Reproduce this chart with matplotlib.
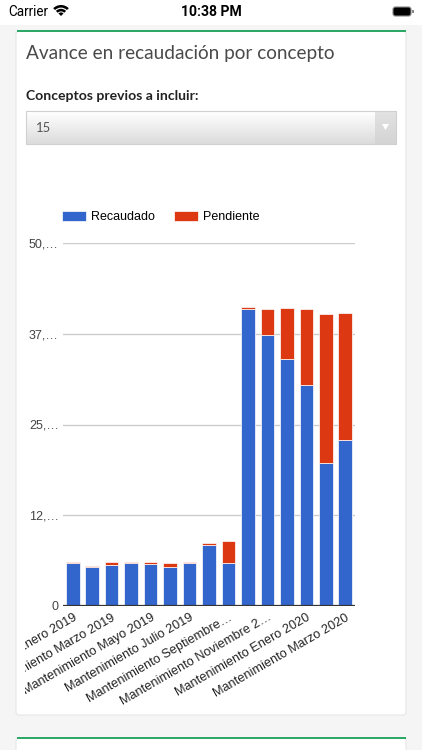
import numpy as np
import matplotlib
matplotlib.use("Agg")
import matplotlib.pyplot as plt
from matplotlib.patches import Rectangle, FancyBboxPatch, Polygon, Wedge
from matplotlib.transforms import Bbox, TransformedBbox

# ---------------- data ----------------
categories = [
    "Mantenimiento Enero 2019", "Mantenimiento Febrero 2019",
    "Mantenimiento Marzo 2019", "Mantenimiento Abril 2019",
    "Mantenimiento Mayo 2019", "Mantenimiento Junio 2019",
    "Mantenimiento Julio 2019", "Mantenimiento Agosto 2019",
    "Mantenimiento Septiembre 2019", "Mantenimiento Octubre 2019",
    "Mantenimiento Noviembre 2019", "Mantenimiento Diciembre 2019",
    "Mantenimiento Enero 2020", "Mantenimiento Febrero 2020",
    "Mantenimiento Marzo 2020",
]
recaudado = [5970, 5420, 5700, 5970, 5830, 5420, 5970, 8450, 5970,
             40970, 37390, 34080, 30410, 19660, 22830]
pendiente = [150, 150, 300, 150, 180, 550, 150, 170, 2950,
             150, 3490, 6940, 10470, 20530, 17500]
series_names = ["Recaudado", "Pendiente"]
xtick_labels = ["Mantenimiento Enero 2019", "Mantenimiento Marzo 2019",
                "Mantenimiento Mayo 2019", "Mantenimiento Julio 2019",
                "Mantenimiento Septiembre…", "Mantenimiento Noviembre 2…",
                "Mantenimiento Enero 2020", "Mantenimiento Marzo 2020"]
yticks = [0, 12500, 25000, 37500, 50000]
ytick_labels = ["0", "12,…", "25,…", "37,…", "50,…"]
title = "Avance en recaudación por concepto"
select_label = "Conceptos previos a incluir:"
select_value = "15"

BLUE = "#3366cc"
RED = "#dc3912"
GREEN = "#2ea866"
W, H = 422, 750

def pt(px):
    return px * 0.72

fig = plt.figure(figsize=(W / 100, H / 100), dpi=100)
fig.patch.set_facecolor("#f5f5f5")

# background / decoration axes in pixel coordinates
bg = fig.add_axes([0, 0, 1, 1], zorder=0)
bg.set_xlim(0, W)
bg.set_ylim(H, 0)
bg.axis("off")

# status bar
bg.add_patch(Rectangle((0, 0), W, 25, facecolor="white", edgecolor="none"))
bg.text(8, 11.5, "Carrier", fontsize=pt(13.5), family="Roboto", va="center", ha="left", color="black")
# wifi icon
cx, cy = 61, 16
for r, w in [(11, 2.6), (7.2, 2.6)]:
    bg.add_patch(Wedge((cx, cy), r, 225, 315, width=w, facecolor="black", edgecolor="none"))
bg.add_patch(Wedge((cx, cy), 3.6, 225, 315, facecolor="black", edgecolor="none"))
bg.text(211, 11.5, "10:38 PM", fontsize=pt(14), family="Roboto", weight="bold",
        va="center", ha="center", color="black")
# battery
bg.add_patch(FancyBboxPatch((393, 7), 18, 9, boxstyle="round,pad=0,rounding_size=2.5",
                            facecolor="black", edgecolor="#888888", lw=0.8))
bg.add_patch(Rectangle((412, 10), 1.6, 3.2, facecolor="#888888", edgecolor="none"))

# card 1
bg.add_patch(FancyBboxPatch((16, 31), 390, 684, boxstyle="round,pad=0,rounding_size=3",
                            facecolor="white", edgecolor="#e6e6e6", lw=0.8))
bg.add_patch(Rectangle((16.5, 29.5), 389, 2.2, facecolor=GREEN, edgecolor="none"))
# card 2
bg.add_patch(FancyBboxPatch((16, 738), 390, 30, boxstyle="round,pad=0,rounding_size=3",
                            facecolor="white", edgecolor="#e6e6e6", lw=0.8))
bg.add_patch(Rectangle((16.5, 736.5), 389, 2.2, facecolor=GREEN, edgecolor="none"))

bg.text(26, 53, title, fontsize=pt(19), family="Lato", color="#4a4a4a",
        va="center", ha="left")
bg.text(26, 96, select_label, fontsize=pt(14), family="Lato", weight="bold",
        color="#222222", va="center", ha="left")

# dropdown with gradient
grad = np.linspace(1.0, 0.86, 64).reshape(-1, 1)
grad = np.repeat(grad, 2, axis=1)
bg.imshow(grad, cmap="gray", vmin=0, vmax=1, extent=(26, 396, 144, 111),
          aspect="auto", origin="upper", interpolation="bilinear", zorder=1)
bg.add_patch(Rectangle((375, 111), 21, 33, facecolor="#cfcfcf", edgecolor="none", alpha=0.6, zorder=2))
bg.add_patch(Rectangle((26, 111), 370, 33, facecolor="none", edgecolor="#d0d0d0", lw=0.8, zorder=3))
bg.add_patch(Polygon([(382, 124), (389, 124), (385.5, 130)], closed=True,
                     facecolor="white", edgecolor="none", zorder=3))
bg.text(36, 128, select_value, fontsize=pt(13), family="Lato", color="#555555",
        va="center", ha="left", zorder=4)
bg.set_xlim(0, W)
bg.set_ylim(H, 0)

# ---------------- chart ----------------
x0, x1, ytop, ybot = 63, 355, 243, 606
ax = fig.add_axes([x0 / W, (H - ybot) / H, (x1 - x0) / W, (ybot - ytop) / H], zorder=2)
ax.set_facecolor("none")
x = np.arange(len(categories))
ax.bar(x, recaudado, width=0.7, color=BLUE, edgecolor="white", linewidth=0.5,
       label=series_names[0], zorder=3)
ax.bar(x, pendiente, bottom=recaudado, width=0.7, color=RED, edgecolor="white",
       linewidth=0.5, label=series_names[1], zorder=3)
ax.set_xlim(-0.5, len(categories) - 0.5)
ax.set_ylim(0, 50000)
for s in ax.spines.values():
    s.set_visible(False)
ax.set_yticks(yticks)
ax.set_yticklabels(ytick_labels, fontsize=pt(12.5), family="Liberation Sans", color="#444444")
ax.yaxis.grid(True, color="#cccccc", lw=1)
ax.set_axisbelow(True)
ax.axhline(0, color="#333333", lw=1.6, zorder=4)
ax.tick_params(axis="y", length=0, pad=3)
ax.set_xticks(x[::2])
ax.set_xticklabels(xtick_labels, rotation=30, ha="right", va="top",
                   rotation_mode="anchor", fontsize=pt(12.8),
                   family="Liberation Sans", color="#222222")
ax.tick_params(axis="x", length=0, pad=4)
clip = TransformedBbox(Bbox([[25 / W, 0], [1, 1]]), fig.transFigure)
for lab in ax.get_xticklabels():
    lab.set_clip_box(clip)
    lab.set_clip_on(True)

ax.legend(loc="center left", bbox_to_anchor=(62 / W, 1 - 217 / H),
          bbox_transform=fig.transFigure, ncol=2, frameon=False,
          borderpad=0, borderaxespad=0, handlelength=1.9, handleheight=0.85,
          handletextpad=0.45, columnspacing=1.5,
          prop={"family": "Liberation Sans", "size": pt(12.5)})

fig.savefig("out.png", dpi=100, facecolor=fig.get_facecolor())
